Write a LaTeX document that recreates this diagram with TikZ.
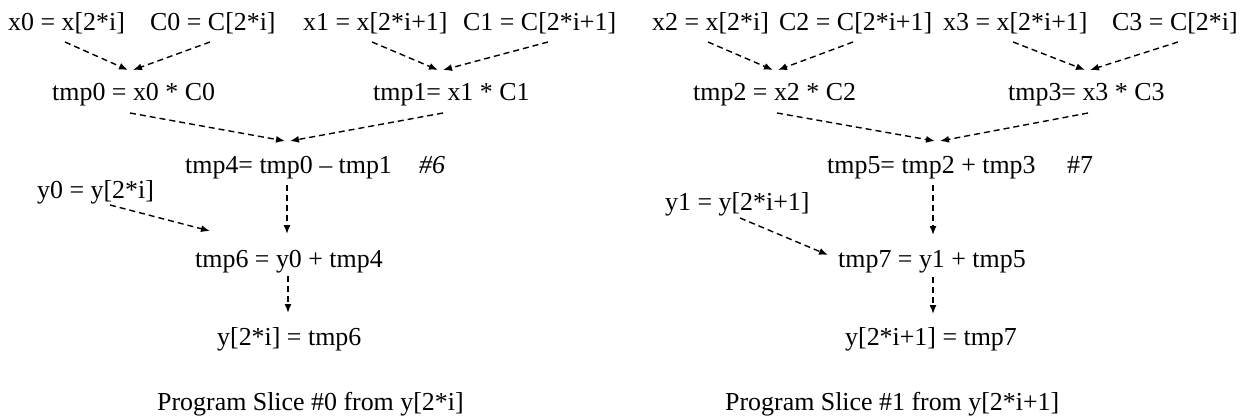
\documentclass[tikz,border=0pt]{standalone}
\usepackage{fontspec}
\setmainfont{Liberation Serif}
\usetikzlibrary{arrows.meta}
\begin{document}
\begin{tikzpicture}[x=1pt,y=-1pt,
  lbl/.style={anchor=base west,inner sep=0pt,font=\fontsize{25.9}{30}\selectfont},
  arr/.style={draw=black,line width=1.4pt,dash pattern=on 6pt off 4pt,-{Latex[length=9pt,width=7pt]}}]
\useasboundingbox (0,0) rectangle (1246,417);
% ---- slice 0
\node[lbl] (x0) at (8,31) {x0 = x[2*i]};
\node[lbl] (c0) at (150,31) {C0 = C[2*i]};
\node[lbl] (x1) at (303,31) {x1 = x[2*i+1]};
\node[lbl] (c1) at (463,31) {C1 = C[2*i+1]};
\node[lbl] (tmp0) at (52,101) {tmp0 = x0 * C0};
\node[lbl] (tmp1) at (373,101) {tmp1= x1 * C1};
\node[lbl] (tmp4) at (185,173) {tmp4= tmp0 -- tmp1};
\node[lbl] (n6) at (419,173) {\itshape \#6};
\node[lbl] (y0) at (37,198) {y0 = y[2*i]};
\node[lbl] (tmp6) at (195,267) {tmp6 = y0 + tmp4};
\node[lbl] (out0) at (217,345) {y[2*i] = tmp6};
\node[lbl] (cap0) at (157,410) {Program Slice \#0 from y[2*i]};
% ---- slice 1
\node[lbl] (x2) at (652,31) {x2 = x[2*i]};
\node[lbl] (c2) at (779,31) {C2 = C[2*i+1]};
\node[lbl] (x3) at (943,31) {x3 = x[2*i+1]};
\node[lbl] (c3) at (1112,31) {C3 = C[2*i]};
\node[lbl] (tmp2) at (693,101) {tmp2 = x2 * C2};
\node[lbl] (tmp3) at (1008,101) {tmp3= x3 * C3};
\node[lbl] (tmp5) at (827,173) {tmp5= tmp2 + tmp3};
\node[lbl] (n7) at (1067,173) {\#7};
\node[lbl] (y1) at (665,210) {y1 = y[2*i+1]};
\node[lbl] (tmp7) at (838,267) {tmp7 = y1 + tmp5};
\node[lbl] (out1) at (845,345) {y[2*i+1] = tmp7};
\node[lbl] (cap1) at (725,410) {Program Slice \#1 from y[2*i+1]};
% ---- connector end points
\coordinate (x0o) at (65,42);   \coordinate (tmp0a) at (128,70);
\coordinate (c0o) at (210,42);  \coordinate (tmp0b) at (133,70);
\coordinate (x1o) at (372,42);  \coordinate (tmp1a) at (438,70);
\coordinate (c1o) at (548,42);  \coordinate (tmp1b) at (443,70);
\coordinate (tmp0o) at (130,113); \coordinate (tmp4a) at (285,141);
\coordinate (tmp1o) at (443,113); \coordinate (tmp4b) at (290,141);
\coordinate (tmp4o) at (287,185); \coordinate (tmp6a) at (287,234);
\coordinate (y0o) at (110,205);   \coordinate (tmp6b) at (210,231);
\coordinate (tmp6o) at (288,276); \coordinate (out0a) at (288,313);
\coordinate (x2o) at (708,42);  \coordinate (tmp2a) at (773,70);
\coordinate (c2o) at (853,42);  \coordinate (tmp2b) at (778,70);
\coordinate (x3o) at (1013,42); \coordinate (tmp3a) at (1085,70);
\coordinate (c3o) at (1178,42); \coordinate (tmp3b) at (1090,70);
\coordinate (tmp2o) at (777,113); \coordinate (tmp5a) at (935,141);
\coordinate (tmp3o) at (1088,113); \coordinate (tmp5b) at (940,141);
\coordinate (tmp5o) at (933,185); \coordinate (tmp7a) at (933,235);
\coordinate (y1o) at (740,218);   \coordinate (tmp7b) at (828,255);
\coordinate (tmp7o) at (933,277); \coordinate (out1a) at (933,314);
% ---- connectors
\draw[arr] (x0o) -- (tmp0a);
\draw[arr] (c0o) -- (tmp0b);
\draw[arr] (x1o) -- (tmp1a);
\draw[arr] (c1o) -- (tmp1b);
\draw[arr] (tmp0o) -- (tmp4a);
\draw[arr] (tmp1o) -- (tmp4b);
\draw[arr] (tmp4o) -- (tmp6a);
\draw[arr] (y0o) -- (tmp6b);
\draw[arr] (tmp6o) -- (out0a);
\draw[arr] (x2o) -- (tmp2a);
\draw[arr] (c2o) -- (tmp2b);
\draw[arr] (x3o) -- (tmp3a);
\draw[arr] (c3o) -- (tmp3b);
\draw[arr] (tmp2o) -- (tmp5a);
\draw[arr] (tmp3o) -- (tmp5b);
\draw[arr] (tmp5o) -- (tmp7a);
\draw[arr] (y1o) -- (tmp7b);
\draw[arr] (tmp7o) -- (out1a);
\end{tikzpicture}
\end{document}
